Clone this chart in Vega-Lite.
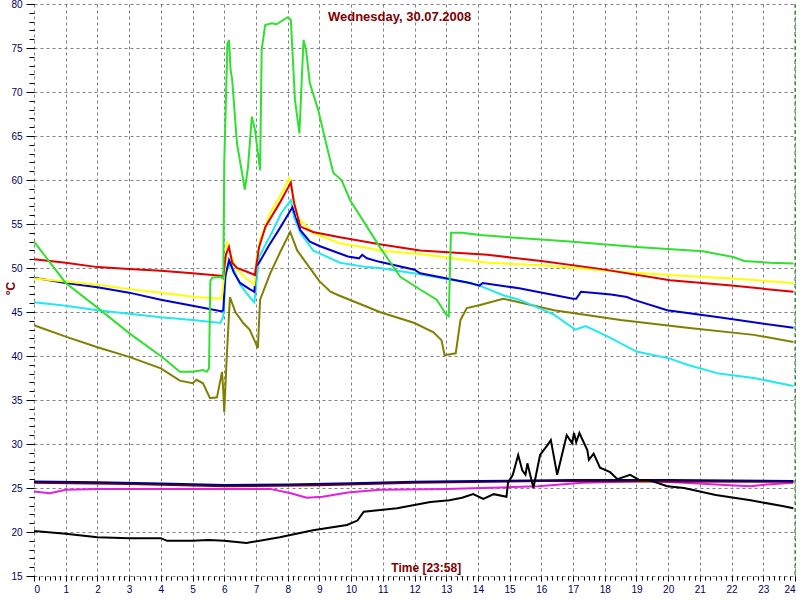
{
  "$schema": "https://vega.github.io/schema/vega-lite/v6.json",
  "width": 761,
  "height": 572,
  "autosize": "none",
  "padding": {"left": 34, "top": 4, "right": 5, "bottom": 24},
  "background": "white",
  "config": {"view": {"stroke": null}, "font": "Liberation Sans"},
  "datasets": {
    "series": [
      {"s":"magenta","h":0,"v":24.6},{"s":"magenta","h":0.5,"v":24.4},{"s":"magenta","h":1,"v":24.8},{"s":"magenta","h":2,"v":24.9},{"s":"magenta","h":4,"v":24.9},{"s":"magenta","h":6,"v":24.9},{"s":"magenta","h":7.45,"v":24.9},{"s":"magenta","h":8.1,"v":24.4},{"s":"magenta","h":8.6,"v":23.9},{"s":"magenta","h":9.1,"v":24.0},{"s":"magenta","h":9.9,"v":24.5},{"s":"magenta","h":10.9,"v":24.8},{"s":"magenta","h":13,"v":24.9},{"s":"magenta","h":15.1,"v":25.1},{"s":"magenta","h":15.9,"v":25.2},{"s":"magenta","h":17.3,"v":25.6},{"s":"magenta","h":19.4,"v":25.8},{"s":"magenta","h":20.5,"v":25.6},{"s":"magenta","h":21.95,"v":25.3},{"s":"magenta","h":22.6,"v":25.2},{"s":"magenta","h":23.1,"v":25.4},{"s":"magenta","h":23.95,"v":25.6},
      {"s":"maroon","h":0,"v":25.6},{"s":"maroon","h":3,"v":25.45},{"s":"maroon","h":6,"v":25.2},{"s":"maroon","h":9,"v":25.3},{"s":"maroon","h":12,"v":25.6},{"s":"maroon","h":16,"v":25.8},{"s":"maroon","h":20,"v":25.75},{"s":"maroon","h":23.95,"v":25.7},
      {"s":"navy","h":0,"v":25.75},{"s":"navy","h":2,"v":25.65},{"s":"navy","h":4,"v":25.5},{"s":"navy","h":6,"v":25.35},{"s":"navy","h":8,"v":25.4},{"s":"navy","h":10,"v":25.55},{"s":"navy","h":12,"v":25.7},{"s":"navy","h":14,"v":25.8},{"s":"navy","h":17,"v":25.9},{"s":"navy","h":20,"v":25.9},{"s":"navy","h":23.95,"v":25.8},
      {"s":"black","h":0,"v":20.1},{"s":"black","h":1,"v":19.8},{"s":"black","h":1.5,"v":19.6},{"s":"black","h":2,"v":19.4},{"s":"black","h":3,"v":19.3},{"s":"black","h":4,"v":19.3},{"s":"black","h":4.2,"v":19.0},{"s":"black","h":5,"v":19.0},{"s":"black","h":5.5,"v":19.1},{"s":"black","h":6,"v":19.0},{"s":"black","h":6.7,"v":18.75},{"s":"black","h":7.75,"v":19.4},{"s":"black","h":8.8,"v":20.2},{"s":"black","h":9.87,"v":20.8},{"s":"black","h":10.2,"v":21.3},{"s":"black","h":10.4,"v":22.3},{"s":"black","h":11.45,"v":22.7},{"s":"black","h":12.5,"v":23.4},{"s":"black","h":13.1,"v":23.6},{"s":"black","h":13.5,"v":23.9},{"s":"black","h":13.85,"v":24.3},{"s":"black","h":14.17,"v":23.75},{"s":"black","h":14.5,"v":24.3},{"s":"black","h":14.9,"v":24.0},{"s":"black","h":14.95,"v":25.6},{"s":"black","h":15.1,"v":26.5},{"s":"black","h":15.27,"v":28.75},{"s":"black","h":15.4,"v":27.0},{"s":"black","h":15.5,"v":26.5},{"s":"black","h":15.56,"v":27.8},{"s":"black","h":15.75,"v":25.0},{"s":"black","h":15.96,"v":28.75},{"s":"black","h":16.2,"v":29.9},{"s":"black","h":16.3,"v":30.45},{"s":"black","h":16.5,"v":26.5},{"s":"black","h":16.8,"v":31.0},{"s":"black","h":16.97,"v":30.1},{"s":"black","h":17.03,"v":31.25},{"s":"black","h":17.1,"v":30.2},{"s":"black","h":17.2,"v":31.25},{"s":"black","h":17.45,"v":29.3},{"s":"black","h":17.5,"v":28.2},{"s":"black","h":17.65,"v":28.9},{"s":"black","h":17.85,"v":27.3},{"s":"black","h":18.17,"v":26.8},{"s":"black","h":18.4,"v":26.0},{"s":"black","h":18.8,"v":26.5},{"s":"black","h":19.1,"v":25.9},{"s":"black","h":19.4,"v":25.9},{"s":"black","h":19.97,"v":25.2},{"s":"black","h":20.5,"v":25.0},{"s":"black","h":21.5,"v":24.2},{"s":"black","h":22.6,"v":23.6},{"s":"black","h":23.6,"v":22.95},{"s":"black","h":23.95,"v":22.7},
      {"s":"olive","h":0,"v":43.5},{"s":"olive","h":1,"v":42.2},{"s":"olive","h":2,"v":41.0},{"s":"olive","h":3,"v":39.9},{"s":"olive","h":4,"v":38.6},{"s":"olive","h":4.6,"v":37.2},{"s":"olive","h":5.0,"v":36.9},{"s":"olive","h":5.13,"v":37.3},{"s":"olive","h":5.33,"v":36.9},{"s":"olive","h":5.55,"v":35.2},{"s":"olive","h":5.77,"v":35.3},{"s":"olive","h":5.93,"v":38.2},{"s":"olive","h":5.97,"v":36.0},{"s":"olive","h":6.0,"v":33.6},{"s":"olive","h":6.08,"v":40.0},{"s":"olive","h":6.18,"v":46.7},{"s":"olive","h":6.35,"v":45.0},{"s":"olive","h":6.6,"v":43.75},{"s":"olive","h":6.8,"v":43.0},{"s":"olive","h":7.06,"v":40.9},{"s":"olive","h":7.13,"v":46.4},{"s":"olive","h":7.45,"v":49.4},{"s":"olive","h":7.75,"v":51.7},{"s":"olive","h":8.08,"v":54.1},{"s":"olive","h":8.3,"v":52.0},{"s":"olive","h":8.6,"v":50.5},{"s":"olive","h":9.0,"v":48.5},{"s":"olive","h":9.35,"v":47.3},{"s":"olive","h":9.6,"v":46.9},{"s":"olive","h":10.5,"v":45.6},{"s":"olive","h":10.9,"v":45.0},{"s":"olive","h":12.0,"v":43.75},{"s":"olive","h":12.6,"v":42.7},{"s":"olive","h":12.85,"v":41.8},{"s":"olive","h":12.95,"v":40.1},{"s":"olive","h":13.3,"v":40.3},{"s":"olive","h":13.45,"v":44.1},{"s":"olive","h":13.65,"v":45.45},{"s":"olive","h":14.07,"v":45.8},{"s":"olive","h":14.8,"v":46.5},{"s":"olive","h":15.3,"v":46.1},{"s":"olive","h":16.4,"v":45.2},{"s":"olive","h":18.5,"v":44.1},{"s":"olive","h":20.6,"v":43.2},{"s":"olive","h":22.7,"v":42.4},{"s":"olive","h":23.95,"v":41.6},
      {"s":"cyan","h":0,"v":46.1},{"s":"cyan","h":1,"v":45.7},{"s":"cyan","h":2,"v":45.2},{"s":"cyan","h":3,"v":44.8},{"s":"cyan","h":4,"v":44.4},{"s":"cyan","h":5,"v":44.1},{"s":"cyan","h":5.88,"v":43.75},{"s":"cyan","h":5.97,"v":44.5},{"s":"cyan","h":6.05,"v":49.5},{"s":"cyan","h":6.2,"v":50.6},{"s":"cyan","h":6.5,"v":48.1},{"s":"cyan","h":6.8,"v":46.7},{"s":"cyan","h":6.95,"v":46.1},{"s":"cyan","h":7.0,"v":47.8},{"s":"cyan","h":7.1,"v":51.3},{"s":"cyan","h":7.5,"v":54.0},{"s":"cyan","h":7.8,"v":56.25},{"s":"cyan","h":8.1,"v":57.7},{"s":"cyan","h":8.2,"v":55.8},{"s":"cyan","h":8.4,"v":54.0},{"s":"cyan","h":8.8,"v":52.0},{"s":"cyan","h":9.65,"v":50.6},{"s":"cyan","h":10.5,"v":50.1},{"s":"cyan","h":10.9,"v":50.0},{"s":"cyan","h":12.18,"v":49.3},{"s":"cyan","h":13.75,"v":48.3},{"s":"cyan","h":14.05,"v":48.0},{"s":"cyan","h":14.8,"v":46.9},{"s":"cyan","h":15.3,"v":46.4},{"s":"cyan","h":16.4,"v":44.7},{"s":"cyan","h":17.07,"v":43.0},{"s":"cyan","h":17.4,"v":43.4},{"s":"cyan","h":18.1,"v":42.2},{"s":"cyan","h":19.0,"v":40.5},{"s":"cyan","h":20.06,"v":39.7},{"s":"cyan","h":20.6,"v":39.0},{"s":"cyan","h":21.6,"v":38.0},{"s":"cyan","h":22.7,"v":37.5},{"s":"cyan","h":23.95,"v":36.6},
      {"s":"blue","h":0,"v":48.9},{"s":"blue","h":1,"v":48.3},{"s":"blue","h":2,"v":47.8},{"s":"blue","h":3,"v":47.2},{"s":"blue","h":4,"v":46.4},{"s":"blue","h":5,"v":45.7},{"s":"blue","h":5.9,"v":45.1},{"s":"blue","h":5.97,"v":45.2},{"s":"blue","h":6.03,"v":49.0},{"s":"blue","h":6.15,"v":50.9},{"s":"blue","h":6.3,"v":49.5},{"s":"blue","h":6.5,"v":48.3},{"s":"blue","h":6.8,"v":47.6},{"s":"blue","h":6.95,"v":47.3},{"s":"blue","h":7.0,"v":50.2},{"s":"blue","h":7.1,"v":50.6},{"s":"blue","h":7.4,"v":52.5},{"s":"blue","h":7.75,"v":54.5},{"s":"blue","h":8.15,"v":56.9},{"s":"blue","h":8.4,"v":54.3},{"s":"blue","h":8.7,"v":53.0},{"s":"blue","h":9.0,"v":52.5},{"s":"blue","h":9.9,"v":51.3},{"s":"blue","h":10.25,"v":51.1},{"s":"blue","h":10.35,"v":51.5},{"s":"blue","h":10.5,"v":51.1},{"s":"blue","h":10.9,"v":50.7},{"s":"blue","h":12.0,"v":49.8},{"s":"blue","h":12.18,"v":49.4},{"s":"blue","h":13.75,"v":48.3},{"s":"blue","h":14.05,"v":48.0},{"s":"blue","h":14.15,"v":48.3},{"s":"blue","h":15.3,"v":47.7},{"s":"blue","h":17.0,"v":46.5},{"s":"blue","h":17.1,"v":46.5},{"s":"blue","h":17.25,"v":47.3},{"s":"blue","h":17.6,"v":47.2},{"s":"blue","h":18.2,"v":47.0},{"s":"blue","h":18.7,"v":46.7},{"s":"blue","h":18.9,"v":46.4},{"s":"blue","h":19.97,"v":45.2},{"s":"blue","h":21.6,"v":44.4},{"s":"blue","h":23.95,"v":43.2},
      {"s":"yellow","h":0,"v":48.8},{"s":"yellow","h":0.9,"v":48.5},{"s":"yellow","h":2,"v":48.1},{"s":"yellow","h":3,"v":47.6},{"s":"yellow","h":4,"v":47.2},{"s":"yellow","h":5.1,"v":46.7},{"s":"yellow","h":5.92,"v":46.5},{"s":"yellow","h":5.98,"v":48.5},{"s":"yellow","h":6.1,"v":53.0},{"s":"yellow","h":6.2,"v":51.5},{"s":"yellow","h":6.4,"v":49.8},{"s":"yellow","h":6.7,"v":48.8},{"s":"yellow","h":6.95,"v":48.1},{"s":"yellow","h":7.02,"v":51.0},{"s":"yellow","h":7.13,"v":53.2},{"s":"yellow","h":7.45,"v":56.25},{"s":"yellow","h":7.75,"v":58.1},{"s":"yellow","h":8.05,"v":60.2},{"s":"yellow","h":8.15,"v":58.5},{"s":"yellow","h":8.3,"v":55.8},{"s":"yellow","h":8.8,"v":54.0},{"s":"yellow","h":9.65,"v":52.8},{"s":"yellow","h":10.5,"v":52.3},{"s":"yellow","h":10.9,"v":52.0},{"s":"yellow","h":12.18,"v":51.6},{"s":"yellow","h":14.3,"v":50.6},{"s":"yellow","h":16.0,"v":50.3},{"s":"yellow","h":18.4,"v":49.6},{"s":"yellow","h":20.0,"v":49.2},{"s":"yellow","h":22.0,"v":48.8},{"s":"yellow","h":23.95,"v":48.3},
      {"s":"red","h":0,"v":51.0},{"s":"red","h":1,"v":50.6},{"s":"red","h":2,"v":50.1},{"s":"red","h":3,"v":49.9},{"s":"red","h":4,"v":49.7},{"s":"red","h":5,"v":49.4},{"s":"red","h":5.97,"v":49.1},{"s":"red","h":6.05,"v":51.5},{"s":"red","h":6.15,"v":52.4},{"s":"red","h":6.25,"v":50.6},{"s":"red","h":6.4,"v":50.0},{"s":"red","h":6.7,"v":49.6},{"s":"red","h":6.97,"v":49.2},{"s":"red","h":7.02,"v":50.5},{"s":"red","h":7.1,"v":52.4},{"s":"red","h":7.3,"v":54.7},{"s":"red","h":7.75,"v":57.4},{"s":"red","h":8.1,"v":59.7},{"s":"red","h":8.2,"v":57.4},{"s":"red","h":8.4,"v":54.7},{"s":"red","h":8.8,"v":54.1},{"s":"red","h":9.65,"v":53.5},{"s":"red","h":10.5,"v":52.95},{"s":"red","h":10.9,"v":52.7},{"s":"red","h":12.18,"v":52.0},{"s":"red","h":14.3,"v":51.5},{"s":"red","h":16.0,"v":50.8},{"s":"red","h":17.85,"v":49.9},{"s":"red","h":20.06,"v":48.6},{"s":"red","h":22.0,"v":48.0},{"s":"red","h":23.95,"v":47.3},
      {"s":"green","h":0,"v":53.0},{"s":"green","h":1,"v":48.3},{"s":"green","h":2,"v":45.5},{"s":"green","h":3,"v":42.6},{"s":"green","h":4.07,"v":39.8},{"s":"green","h":4.6,"v":38.2},{"s":"green","h":5.0,"v":38.2},{"s":"green","h":5.33,"v":38.4},{"s":"green","h":5.45,"v":38.2},{"s":"green","h":5.52,"v":38.6},{"s":"green","h":5.56,"v":48.5},{"s":"green","h":5.62,"v":48.9},{"s":"green","h":5.87,"v":49.0},{"s":"green","h":5.97,"v":48.8},{"s":"green","h":6.0,"v":62.0},{"s":"green","h":6.1,"v":75.5},{"s":"green","h":6.15,"v":75.9},{"s":"green","h":6.2,"v":72.5},{"s":"green","h":6.25,"v":71.4},{"s":"green","h":6.4,"v":64.2},{"s":"green","h":6.65,"v":58.9},{"s":"green","h":6.75,"v":61.5},{"s":"green","h":6.87,"v":67.2},{"s":"green","h":6.97,"v":65.7},{"s":"green","h":7.13,"v":61.1},{"s":"green","h":7.18,"v":74.8},{"s":"green","h":7.29,"v":77.6},{"s":"green","h":7.5,"v":77.8},{"s":"green","h":7.65,"v":77.7},{"s":"green","h":8.0,"v":78.5},{"s":"green","h":8.1,"v":78.2},{"s":"green","h":8.23,"v":69.1},{"s":"green","h":8.37,"v":65.3},{"s":"green","h":8.42,"v":69.4},{"s":"green","h":8.5,"v":75.9},{"s":"green","h":8.58,"v":74.8},{"s":"green","h":8.7,"v":71.0},{"s":"green","h":8.96,"v":68.0},{"s":"green","h":9.24,"v":63.75},{"s":"green","h":9.44,"v":60.8},{"s":"green","h":9.7,"v":60.0},{"s":"green","h":9.97,"v":57.7},{"s":"green","h":10.5,"v":54.7},{"s":"green","h":10.9,"v":52.4},{"s":"green","h":11.55,"v":49.0},{"s":"green","h":12.2,"v":47.5},{"s":"green","h":12.7,"v":46.4},{"s":"green","h":13.0,"v":44.7},{"s":"green","h":13.08,"v":44.5},{"s":"green","h":13.15,"v":54.0},{"s":"green","h":13.5,"v":54.0},{"s":"green","h":14.07,"v":53.75},{"s":"green","h":15.3,"v":53.4},{"s":"green","h":16.9,"v":53.0},{"s":"green","h":19.0,"v":52.4},{"s":"green","h":21.1,"v":51.9},{"s":"green","h":22.05,"v":51.25},{"s":"green","h":22.4,"v":50.8},{"s":"green","h":23.2,"v":50.6},{"s":"green","h":23.95,"v":50.5}
    ]
  },
  "layer": [
    {
      "data": {"name": "series"},
      "mark": {"type": "line", "strokeWidth": 2},
      "encoding": {
        "x": {"field": "h", "type": "quantitative", "scale": {"domain": [0, 24], "nice": false, "zero": false},
          "axis": {"orient": "bottom", "title": null, "values": [0,1,2,3,4,5,6,7,8,9,10,11,12,13,14,15,16,17,18,19,20,21,22,23,24],
            "grid": true, "gridDash": [3, 3], "gridColor": "#808080", "gridOpacity": 1, "domain": false,
            "tickSize": 5, "tickColor": "#000000", "labelColor": "#000066", "labelFontSize": 10, "labelFont": "Liberation Sans", "labelPadding": 3}},
        "y": {"field": "v", "type": "quantitative", "scale": {"domain": [15, 80], "nice": false, "zero": false},
          "axis": {"orient": "left", "values": [15,20,25,30,35,40,45,50,55,60,65,70,75,80],
            "grid": true, "gridDash": [3, 3], "gridColor": "#808080", "gridOpacity": 1, "domain": false,
            "tickSize": 8, "tickColor": "#000000", "labelColor": "#000066", "labelFontSize": 10, "labelFont": "Liberation Sans", "labelPadding": 4,
            "title": "°C", "titleColor": "#800000", "titleFontSize": 12, "titleFontWeight": "bold", "titleFont": "Liberation Sans",
            "titleAngle": -90, "titleX": -24, "titleY": 284, "titleAlign": "center", "titleBaseline": "middle"}},
        "color": {"field": "s", "type": "nominal", "legend": null,
          "scale": {"domain": ["magenta","maroon","navy","black","olive","cyan","blue","yellow","red","green"],
            "range": ["#e020e0","#800000","#000080","#000000","#808000","#22e8f0","#0000d0","#ffff00","#e00000","#30e030"]}}
      }
    },
    {
      "data": {"values": [{"label": "Wednesday, 30.07.2008", "h": 11.53, "v": 78.5}]},
      "mark": {"type": "text", "font": "Liberation Sans", "fontSize": 13, "fontWeight": "bold", "color": "#800000", "align": "center", "baseline": "middle"},
      "encoding": {
        "text": {"field": "label"},
        "x": {"field": "h", "type": "quantitative", "scale": {"domain": [0, 24], "nice": false, "zero": false},
          "axis": {"orient": "bottom", "title": null, "labels": false, "grid": false, "domain": false, "tickSize": 4, "tickColor": "#000000",
            "values": [0,0.1667,0.3333,0.5,0.6667,0.8333,1,1.1667,1.3333,1.5,1.6667,1.8333,2,2.1667,2.3333,2.5,2.6667,2.8333,3,3.1667,3.3333,3.5,3.6667,3.8333,4,4.1667,4.3333,4.5,4.6667,4.8333,5,5.1667,5.3333,5.5,5.6667,5.8333,6,6.1667,6.3333,6.5,6.6667,6.8333,7,7.1667,7.3333,7.5,7.6667,7.8333,8,8.1667,8.3333,8.5,8.6667,8.8333,9,9.1667,9.3333,9.5,9.6667,9.8333,10,10.1667,10.3333,10.5,10.6667,10.8333,11,11.1667,11.3333,11.5,11.6667,11.8333,12,12.1667,12.3333,12.5,12.6667,12.8333,13,13.1667,13.3333,13.5,13.6667,13.8333,14,14.1667,14.3333,14.5,14.6667,14.8333,15,15.1667,15.3333,15.5,15.6667,15.8333,16,16.1667,16.3333,16.5,16.6667,16.8333,17,17.1667,17.3333,17.5,17.6667,17.8333,18,18.1667,18.3333,18.5,18.6667,18.8333,19,19.1667,19.3333,19.5,19.6667,19.8333,20,20.1667,20.3333,20.5,20.6667,20.8333,21,21.1667,21.3333,21.5,21.6667,21.8333,22,22.1667,22.3333,22.5,22.6667,22.8333,23,23.1667,23.3333,23.5,23.6667,23.8333,24]}},
        "y": {"field": "v", "type": "quantitative", "scale": {"domain": [15, 80], "nice": false, "zero": false},
          "axis": {"orient": "left", "title": null, "labels": false, "grid": false, "domain": false, "tickSize": 5, "tickColor": "#000000",
            "values": [15,16,17,18,19,20,21,22,23,24,25,26,27,28,29,30,31,32,33,34,35,36,37,38,39,40,41,42,43,44,45,46,47,48,49,50,51,52,53,54,55,56,57,58,59,60,61,62,63,64,65,66,67,68,69,70,71,72,73,74,75,76,77,78,79,80]}}
      }
    },
    {
      "data": {"values": [{"label": "Time [23:58]", "h": 12.37, "v": 15.9}]},
      "mark": {"type": "text", "font": "Liberation Sans", "fontSize": 12, "fontWeight": "bold", "color": "#800000", "align": "center", "baseline": "middle"},
      "encoding": {
        "text": {"field": "label"},
        "x": {"field": "h", "type": "quantitative", "scale": {"domain": [0, 24], "nice": false, "zero": false}, "axis": null},
        "y": {"field": "v", "type": "quantitative", "scale": {"domain": [15, 80], "nice": false, "zero": false}, "axis": null}
      }
    },
    {
      "data": {"values": [{"h": 24}]},
      "mark": {"type": "rule", "color": "#008000", "strokeDash": [4, 3], "strokeWidth": 1},
      "encoding": {
        "x": {"field": "h", "type": "quantitative", "scale": {"domain": [0, 24], "nice": false, "zero": false}, "axis": null}
      }
    }
  ],
  "resolve": {"axis": {"x": "independent", "y": "independent"}}
}
